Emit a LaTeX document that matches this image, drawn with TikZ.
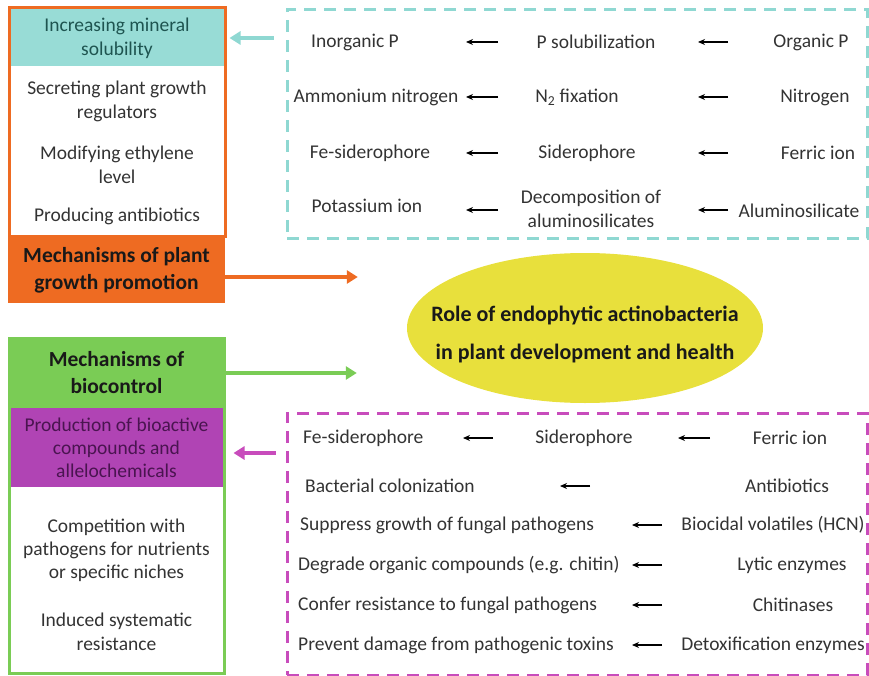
\documentclass[tikz,border=0pt]{standalone}
\usepackage{fontspec}
\setmainfont{Carlito}
\usepackage{tikz}
\usetikzlibrary{shapes.geometric, arrows.meta, positioning}

\definecolor{tealbg}{HTML}{98DCD6}
\definecolor{tealdash}{HTML}{8FD8D2}
\definecolor{tealtxt}{HTML}{1E5450}
\definecolor{pgporange}{HTML}{EE6B22}
\definecolor{bcgreen}{HTML}{7ACC55}
\definecolor{bioviolet}{HTML}{B044B4}
\definecolor{biotxt}{HTML}{4A1450}
\definecolor{magdash}{HTML}{C84CBC}
\definecolor{roleyellow}{HTML}{E8E03C}
\definecolor{bodytxt}{HTML}{333333}

\begin{document}
\begin{tikzpicture}[x=1pt,y=-1pt,
		txt/.style={text=bodytxt, font=\fontsize{19.5}{24}\selectfont, align=center, inner sep=0pt},
		bld/.style={text=black!90, font=\bfseries\fontsize{21.5}{27}\selectfont, align=center, inner sep=0pt},
		blk/.style={-{Stealth[length=7pt,width=6pt]}, line width=1.1pt},
		fat/.style={line width=3.5pt, -{Triangle[length=11pt,width=13pt]}},
		dashbox/.style={line width=3pt, dash pattern=on 12pt off 8pt, minimum width=580pt}]
		\useasboundingbox (0,0) rectangle (869,676);

		\node[txt, fill=tealbg, text=tealtxt, minimum width=214pt, minimum height=57pt] (mineral) at (117,38) {Increasing mineral\\solubility};
		\node[draw=pgporange, line width=3pt, minimum width=216pt, minimum height=229pt] (pgpframe) at (117,122.5) {};
		\node[txt] (growreg) at (117,101) {Secreting plant growth\\regulators};
		\node[txt] (ethyl) at (117,165) {Modifying ethylene\\level};
		\node[txt] (antib) at (117,216) {Producing antibiotics};
		\node[bld, fill=pgporange, minimum width=217pt, minimum height=66pt] (pgpbox) at (116.5,270) {Mechanisms of plant\\growth promotion};

		\node[draw=tealdash, dashbox, minimum height=229pt] (cyanbox) at (577,124) {};
		\node[txt] (inorgp) at (355,42) {Inorganic P};
		\node[txt] (ammon) at (376,97) {Ammonium nitrogen};
		\node[txt] (fesid) at (370,153) {Fe-siderophore};
		\node[txt] (potas) at (367,206) {Potassium ion};
		\node[txt] (psol) at (596,42) {P solubilization};
		\node[txt] (nfix) at (577,97) {N\textsubscript{2} fixation};
		\node[txt] (sidero) at (587,153) {Siderophore};
		\node[txt] (decomp) at (591,209) {Decomposition of\\aluminosilicates};
		\node[txt] (orgp) at (811,42) {Organic P};
		\node[txt] (nitro) at (815,97) {Nitrogen};
		\node[txt] (ferric) at (818,153) {Ferric ion};
		\node[txt] (alumsil) at (799,211) {Aluminosilicate};
		\foreach \y in {42,97,153,210} {
			\draw[blk] (498,\y) -- (466,\y);
			\draw[blk] (728,\y) -- (698,\y);
		}

		\node[ellipse, fill=roleyellow, minimum width=356pt, minimum height=150pt] (role) at (585,328) {};
		\node[bld, font=\bfseries\fontsize{22}{38}\selectfont] (roletxt) at (585,334) {Role of endophytic actinobacteria\\in plant development and health};

		\node[bld, fill=bcgreen, minimum width=215pt, minimum height=70pt] (bchead) at (116.5,373) {Mechanisms of\\biocontrol};
		\node[txt, fill=bioviolet, text=biotxt, font=\fontsize{19.5}{23}\selectfont, minimum width=213pt, minimum height=79pt] (bioact) at (116.5,447.5) {Production of bioactive\\compounds and\\allelochemicals};
		\node[draw=bcgreen, line width=3pt, minimum width=215pt, minimum height=335pt] (bcframe) at (116.5,505.5) {};
		\node[txt, font=\fontsize{19.5}{23}\selectfont] (compet) at (116.5,550) {Competition with\\pathogens for nutrients\\or specific niches};
		\node[txt] (induced) at (116.5,632) {Induced systematic\\resistance};

		\node[draw=magdash, dashbox, minimum height=262pt] (magbox) at (577,544) {};
		\node[txt, anchor=west] (fesid2) at (303,438) {Fe-siderophore};
		\node[txt, anchor=west] (bactcol) at (305,486) {Bacterial colonization};
		\node[txt, anchor=west] (suppress) at (300,525) {Suppress growth of fungal pathogens};
		\node[txt, anchor=west] (degrade) at (298,565) {Degrade organic compounds (e.g. chitin)};
		\node[txt, anchor=west] (confer) at (298,605) {Confer resistance to fungal pathogens};
		\node[txt, anchor=west] (prevent) at (298,645) {Prevent damage from pathogenic toxins};
		\node[txt] (sidero2) at (584,438) {Siderophore};
		\node[txt] (ferric2) at (790,438) {Ferric ion};
		\node[txt] (antibio) at (787,486) {Antibiotics};
		\node[txt] (biocid) at (773,525) {Biocidal volatiles (HCN)};
		\node[txt] (lytic) at (792,565) {Lytic enzymes};
		\node[txt] (chitin) at (793,605) {Chitinases};
		\node[txt] (detox) at (773,645) {Detoxification enzymes};
		\draw[blk] (493,438) -- (463,438);
		\draw[blk] (710,438) -- (678,438);
		\draw[blk] (590,486) -- (560,486);
		\foreach \y in {525,565,605,645}
			\draw[blk] (662,\y) -- (632,\y);

		\draw[fat, tealdash, shorten <=12pt, shorten >=3pt] (cyanbox.west |- mineral) -- (pgpframe.east |- mineral);
		\draw[fat, pgporange, shorten >=49pt] (pgpbox.east |- 0,277) -- (role.west |- 0,277);
		\draw[fat, bcgreen, shorten >=50pt] (bchead.east |- 0,373) -- (role.west |- 0,373);
		\draw[fat, magdash, shorten <=10pt, shorten >=8pt] (magbox.west |- 0,453) -- (bcframe.east |- 0,453);
	\end{tikzpicture}
\end{document}
